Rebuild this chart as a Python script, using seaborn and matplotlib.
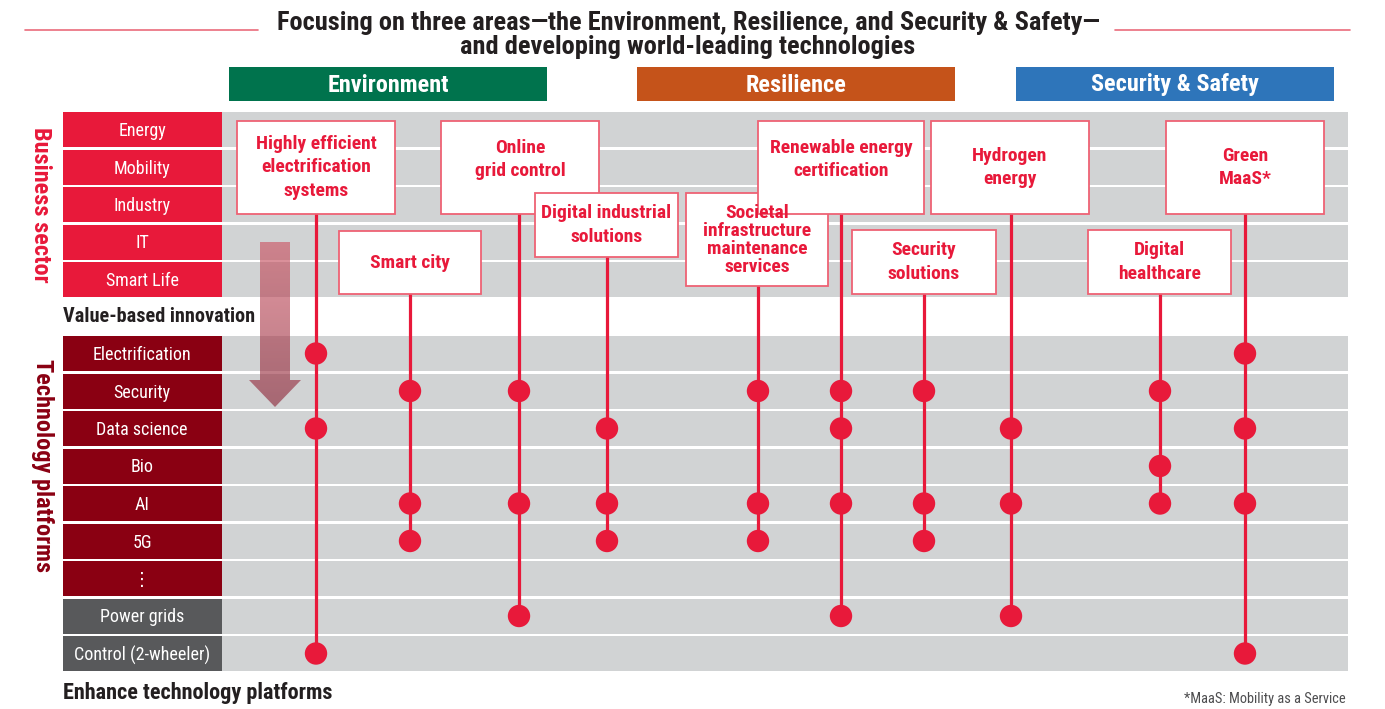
import matplotlib
matplotlib.use("Agg")
import matplotlib.pyplot as plt
from matplotlib import font_manager
from matplotlib.patches import Rectangle, FancyArrow
import numpy as np
import pandas as pd
import seaborn as sns

# ---------------------------------------------------------------------------
# Data
# ---------------------------------------------------------------------------
title_lines = ["Focusing on three areas\u2014the Environment, Resilience, and Security & Safety\u2014",
               "and developing world-leading technologies"]
areas = ["Environment", "Resilience", "Security & Safety"]
business_sectors = ["Energy", "Mobility", "Industry", "IT", "Smart Life"]
platforms = ["Electrification", "Security", "Data science", "Bio", "AI", "5G",
             "\u22ee", "Power grids", "Control (2-wheeler)"]
solutions = ["Highly efficient\nelectrification\nsystems", "Smart city",
             "Online\ngrid control", "Digital industrial\nsolutions",
             "Societal\ninfrastructure\nmaintenance\nservices",
             "Renewable energy\ncertification", "Security\nsolutions",
             "Hydrogen\nenergy", "Digital\nhealthcare", "Green\nMaaS*"]
# which platforms each solution draws on
solution_platforms = [
    ["Electrification", "Data science", "Control (2-wheeler)"],
    ["Security", "AI", "5G"],
    ["Security", "AI", "Power grids"],
    ["Data science", "AI", "5G"],
    ["Security", "AI", "5G"],
    ["Security", "Data science", "AI", "Power grids"],
    ["Security", "AI", "5G"],
    ["Data science", "AI", "Power grids"],
    ["Security", "Bio", "AI"],
    ["Electrification", "Data science", "AI", "Control (2-wheeler)"],
]
footnote = "*MaaS: Mobility as a Service"

# ---------------------------------------------------------------------------
# Layout (pixel space of a 1385 x 709 canvas)
# ---------------------------------------------------------------------------
area_x = [229, 637, 1016]
area_w = 318
# box left, top, right, bottom
box_pos = [(237, 121, 395, 214), (339, 231, 481, 294), (441, 121, 599, 214),
           (535, 193, 678, 257), (686, 193, 828, 286), (758, 121, 924, 214),
           (852, 230, 996, 294), (931, 121, 1089, 214), (1088, 230, 1231, 294),
           (1166, 121, 1324, 214)]
text_dy = [0, 0, -8, 0, 0, -8, 0, 0, 0, 0]   # some labels sit high in their box
line_x = [316, 410, 519, 607, 758, 841, 924, 1011, 1160, 1245]

RED = "#E8193A"
DARK_RED = "#8A0012"
GREY_CELL = "#58595B"
BAND = "#D1D3D4"
TEXT = "#231F20"
area_colors = ["#00734D", "#C5531A", "#2E75BA"]

sns.set_theme(style="white")
names = {f.name for f in font_manager.fontManager.ttflist}
COND = next((n for n in ["Liberation Sans Narrow", "DejaVu Sans Condensed", "Roboto Condensed"]
             if n in names), "Roboto")
plt.rcParams["font.family"] = [COND, "DejaVu Sans"]

fig = plt.figure(figsize=(13.85, 7.09), dpi=100)
ax = fig.add_axes([0, 0, 1, 1])
ax.set_xlim(0, 1385)
ax.set_ylim(709, 0)
ax.axis("off")

# title
ax.plot([25, 258], [30, 30], color="#EA6C7C", lw=1.2)
ax.plot([1115, 1350], [30, 30], color="#EA6C7C", lw=1.2)
ax.text(688, 35, "\n".join(title_lines), ha="center", va="center",
        multialignment="center", fontsize=19, linespacing=1.0,
        fontweight="bold", color=TEXT)

# area headers
for x0, name, col in zip(area_x, areas, area_colors):
    ax.add_patch(Rectangle((x0, 67), area_w, 34, color=col, lw=0))
    ax.text(x0 + area_w / 2, 85, name, ha="center", va="center", fontsize=17.5,
            fontweight="bold", color="white")

PITCH, ROW_H = 37.5, 35
biz_y = {s: 112 + PITCH * i + ROW_H / 2 for i, s in enumerate(business_sectors)}
plat_y = {p: 336 + PITCH * i + ROW_H / 2 for i, p in enumerate(platforms)}

for s, yc in biz_y.items():
    ax.add_patch(Rectangle((63, yc - ROW_H / 2), 159, ROW_H, color=RED, lw=0))
    ax.add_patch(Rectangle((222, yc - ROW_H / 2), 1126, ROW_H, color=BAND, lw=0))
    ax.text(142, yc + 1.5, s, ha="center", va="center", fontsize=13, color="white")

for p, yc in plat_y.items():
    cell = GREY_CELL if p in ("Power grids", "Control (2-wheeler)") else DARK_RED
    ax.add_patch(Rectangle((63, yc - ROW_H / 2), 159, ROW_H, color=cell, lw=0))
    ax.add_patch(Rectangle((222, yc - ROW_H / 2), 1126, ROW_H, color=BAND, lw=0))
    ax.text(142, yc + 1.5, p, ha="center", va="center", fontsize=13, color="white")

# side labels
ax.text(40, 205, "Business sector", rotation=-90, ha="center", va="center",
        fontsize=17.5, fontweight="bold", color=RED)
ax.text(42, 466, "Technology platforms", rotation=-90, ha="center", va="center",
        fontsize=17.5, fontweight="bold", color=DARK_RED)
ax.text(63, 317, "Value-based innovation", ha="left", va="center", fontsize=14.6,
        fontweight="bold", color=TEXT)
ax.text(63, 693, "Enhance technology platforms", ha="left", va="center",
        fontsize=16, fontweight="bold", color=TEXT)
ax.text(1346, 699, footnote, ha="right", va="center", fontsize=10.4, color="#4D4D4F")

# translucent downward arrow with gradient
arrow = FancyArrow(275, 242, 0, 165, width=30, head_width=52, head_length=27,
                   length_includes_head=True, facecolor="none", edgecolor="none")
ax.add_patch(arrow)
grad = np.linspace(0, 1, 256)[:, None]
top, bot = np.array([0.80, 0.32, 0.38]), np.array([0.55, 0.15, 0.22])
rgba = np.zeros((256, 1, 4))
rgba[..., :3] = top + (bot - top) * grad[..., None]
rgba[..., 3] = 0.62
im = ax.imshow(rgba, extent=(249, 301, 407, 242), aspect="auto", zorder=3,
               interpolation="bilinear")
im.set_clip_path(arrow)
ax.set_xlim(0, 1385)
ax.set_ylim(709, 0)

# connector lines, boxes and dots
rows = []
for sol, plats, lx, (x0, y0, x1, y1), dy in zip(solutions, solution_platforms,
                                                line_x, box_pos, text_dy):
    last = max(plat_y[p] for p in plats)
    ax.plot([lx, lx], [y1, last], color=RED, lw=2.3, zorder=4)
    ax.add_patch(Rectangle((x0, y0), x1 - x0, y1 - y0, facecolor="white",
                           edgecolor="#EE6274", lw=1.3, zorder=5))
    n_lines = sol.count("\n") + 1
    ax.text((x0 + x1) / 2, (y0 + y1) / 2 + dy, sol, ha="center", va="center",
            fontsize=14, fontweight="bold", color=RED,
            linespacing=1.0 if n_lines > 3 else 1.4, zorder=6)
    for p in plats:
        rows.append({"solution": sol, "x": lx, "y": plat_y[p]})

dots = pd.DataFrame(rows)
sns.scatterplot(data=dots, x="x", y="y", s=260, color=RED, edgecolor="none",
                linewidth=0, ax=ax, zorder=7, legend=False)
ax.set_xlim(0, 1385)
ax.set_ylim(709, 0)
ax.axis("off")

fig.savefig("out.png", dpi=100)
